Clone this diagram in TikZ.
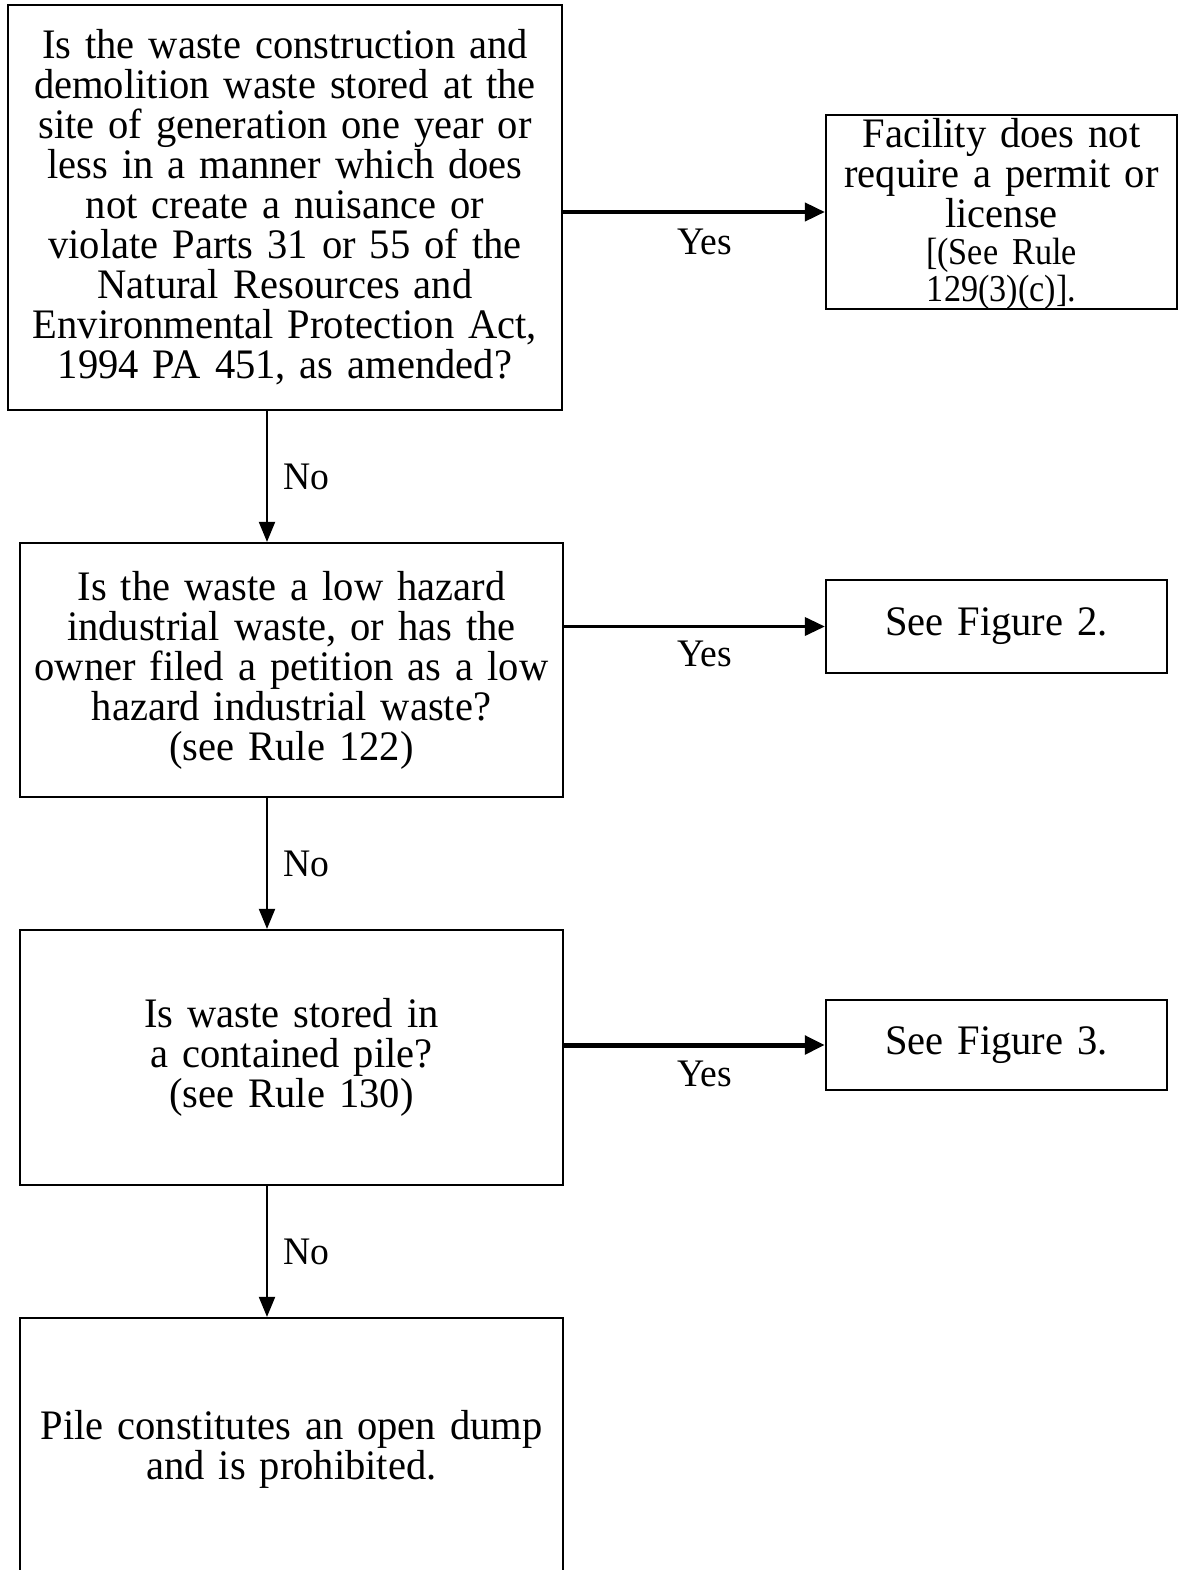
\documentclass[tikz,border=0pt]{standalone}
\usepackage{fontspec}
\setmainfont[FakeStretch=0.965,WordSpace=0.6]{Liberation Serif}
\newfontfamily\narrowserif[FakeStretch=0.9,WordSpace=0.65]{Liberation Serif}
\usetikzlibrary{arrows.meta}
\begin{document}
\begin{tikzpicture}[x=1pt,y=-1pt,
  box/.style={draw,line width=2.2pt,inner sep=0pt,align=center,
    font=\fontsize{42}{40}\selectfont},
  plain/.style={inner sep=0pt,align=center,font=\fontsize{42}{40}\selectfont},
  down/.style={line width=2pt,-{Triangle[length=20pt,width=16pt]}},
  yes/.style={-{Triangle[length=20pt,width=18pt]}},
  lbl/.style={font=\fontsize{39}{40}\selectfont,inner sep=0pt}]
\useasboundingbox (0,0) rectangle (1179,1570);
\coordinate (colx) at (267,0);

% decision boxes on the left
\node[box,minimum width=554pt,minimum height=405pt,text width=545pt] (q1) at (285,207.5)
  {Is the waste construction and\\demolition waste stored at the\\site of generation one year or\\less in a manner which does\\not create a nuisance or\\violate Parts 31 or 55 of the\\Natural Resources and\\Environmental Protection Act,\\1994 PA 451, as amended?};
\node[box,minimum width=543pt,minimum height=254pt,text width=535pt] (q2) at (291.5,670)
  {Is the waste a low hazard\\industrial waste, or has the\\owner filed a petition as a low\\hazard industrial waste?\\(see Rule 122)};
\node[box,minimum width=543pt,minimum height=255pt,text width=535pt] (q3) at (291.5,1057.5)
  {Is waste stored in\\a contained pile?\\(see Rule 130)};
\node[box,minimum width=543pt,minimum height=262pt,text width=535pt] (q4) at (291.5,1449)
  {Pile constitutes an open dump\\and is prohibited.};

% outcome boxes on the right
\node[box,minimum width=351pt,minimum height=194pt] (r1) at (1001.5,212) {};
\node[plain,text width=345pt] (r1text) at ([yshift=-1.5pt]r1.center)
  {Facility does not\\require a permit or\\license\\{\narrowserif\fontsize{38}{37}\selectfont[(See Rule\\129(3)(c)].\par}};
\node[box,minimum width=341pt,minimum height=93pt,text width=335pt] (r2) at (996.5,626.5)
  {See Figure 2.};
\node[box,minimum width=341pt,minimum height=90pt,text width=335pt] (r3) at (996.5,1045)
  {See Figure 3.};

% "No" connectors
\draw[down] (q1.south -| colx) -- node[lbl,right=15pt] {No} (q2.north -| colx);
\draw[down] (q2.south -| colx) -- node[lbl,right=15pt] {No} (q3.north -| colx);
\draw[down] (q3.south -| colx) -- node[lbl,right=15pt] {No} (q4.north -| colx);

% "Yes" connectors
\draw[yes,line width=4pt] (r1.west -| q1.east) -- node[lbl,pos=0.54,below=15pt] {Yes} (r1.west);
\draw[yes,line width=3.5pt] (r2.west -| q2.east) -- node[lbl,pos=0.54,below=13pt] {Yes} (r2.west);
\draw[yes,line width=5pt] (r3.west -| q3.east) -- node[lbl,pos=0.54,below=13pt] {Yes} (r3.west);
\end{tikzpicture}
\end{document}
